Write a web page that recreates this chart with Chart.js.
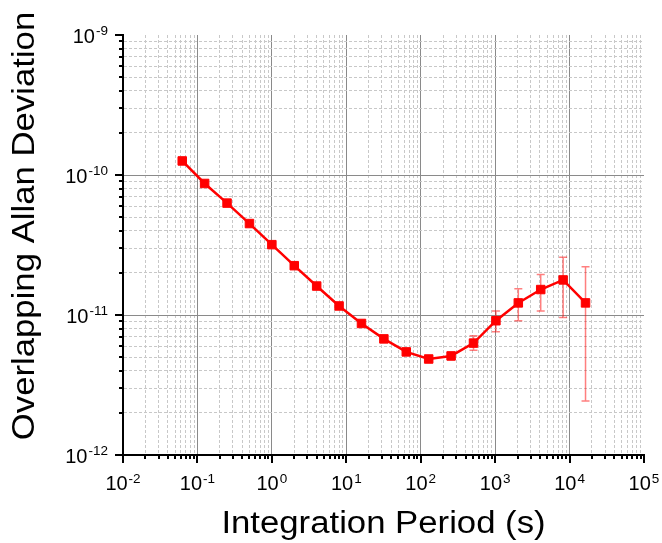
<!DOCTYPE html>
<html>
<head>
<meta charset="utf-8">
<script src="https://cdn.jsdelivr.net/npm/chart.js@4.4.1/dist/chart.umd.min.js"></script>
<style>
html, body { margin: 0; padding: 0; background: #fff; }
</style>
</head>
<body>
<canvas id="chartAdev" width="662" height="543"></canvas>
<script>
(function () {
	// averaging times (s) and overlapping Allan deviation
	var taus = [0.0625, 0.125, 0.25, 0.5, 1, 2, 4, 8, 16, 32, 64, 128, 256, 512, 1024, 2048, 4096, 8192, 16384];
	var adev = [1.26e-10, 8.7e-11, 6.3e-11, 4.5e-11, 3.18e-11, 2.25e-11, 1.61e-11, 1.16e-11, 8.7e-12, 6.75e-12,
		5.45e-12, 4.85e-12, 5.1e-12, 6.3e-12, 9.1e-12, 1.22e-11, 1.52e-11, 1.78e-11, 1.22e-11];
	var errLow = [null, null, null, null, null, null, null, null, null, null,
		null, 4.7e-12, 4.8e-12, 5.6e-12, 7.6e-12, 9.1e-12, 1.07e-11, 9.6e-12, 2.43e-12];
	var errHigh = [null, null, null, null, null, null, null, null, null, null,
		null, 5.0e-12, 5.4e-12, 7.1e-12, 1.07e-11, 1.54e-11, 1.95e-11, 2.58e-11, 2.21e-11];

	// decade exponents used for ticks and tick labels
	var xExps = [-2, -1, 0, 1, 2, 3, 4, 5];
	var yExps = [-12, -11, -10, -9];

	var FONT = "'Liberation Sans', Arial, sans-serif";

	function logTicks(exps) {
		var ticks = [];
		exps.forEach(function (e, i) {
			ticks.push({ value: Math.pow(10, e), major: true, exp: e });
			if (i < exps.length - 1) {
				for (var k = 2; k <= 9; k++) {
					ticks.push({ value: k * Math.pow(10, e), major: false });
				}
			}
		});
		return ticks;
	}

	function gridColor(exps) {
		return function (ctx) {
			var t = ctx.tick;
			if (!t) return 'rgba(0,0,0,0)';
			if (t.major) {
				if (t.exp === exps[0] || t.exp === exps[exps.length - 1]) return 'rgba(0,0,0,0)';
				return '#8a8a8a';
			}
			return '#c8c8c8';
		};
	}

	function gridDash(ctx) {
		return ctx.tick && !ctx.tick.major ? [3, 2] : [];
	}

	var points = taus.map(function (t, i) { return { x: t, y: adev[i] }; });

	var errorBars = {
		id: 'errorBars',
		beforeDatasetsDraw: function (chart) {
			var c = chart.ctx, xs = chart.scales.x, ys = chart.scales.y, a = chart.chartArea;
			c.save();
			c.beginPath();
			c.rect(a.left, a.top, a.right - a.left, a.bottom - a.top);
			c.clip();
			c.strokeStyle = 'rgba(255, 0, 0, 0.5)';
			c.lineWidth = 1.5;
			taus.forEach(function (t, i) {
				if (errLow[i] == null) return;
				var px = xs.getPixelForValue(t);
				var top = ys.getPixelForValue(errHigh[i]);
				var bot = ys.getPixelForValue(errLow[i]);
				c.beginPath();
				c.moveTo(px, top); c.lineTo(px, bot);
				c.moveTo(px - 4, top); c.lineTo(px + 4, top);
				c.moveTo(px - 4, bot); c.lineTo(px + 4, bot);
				c.stroke();
			});
			c.restore();
		}
	};

	var axisDecor = {
		id: 'axisDecor',
		afterDraw: function (chart) {
			var c = chart.ctx, xs = chart.scales.x, ys = chart.scales.y, a = chart.chartArea;
			c.save();
			c.strokeStyle = '#000';
			c.lineWidth = 2;
			c.beginPath();
			xs.ticks.forEach(function (t) {
				var px = Math.round(xs.getPixelForValue(t.value));
				c.moveTo(px, a.bottom); c.lineTo(px, a.bottom + (t.major ? 8 : 4));
			});
			ys.ticks.forEach(function (t) {
				var py = Math.round(ys.getPixelForValue(t.value));
				c.moveTo(a.left, py); c.lineTo(a.left - (t.major ? 8 : 4), py);
			});
			c.stroke();

			c.fillStyle = '#000';
			c.textAlign = 'left';
			c.textBaseline = 'alphabetic';
			var baseFont = '20px ' + FONT, supFont = '13.5px ' + FONT;

			xExps.forEach(function (e) {
				var px = xs.getPixelForValue(Math.pow(10, e));
				var sup = String(e);
				c.font = baseFont; var bw = c.measureText('10').width;
				c.font = supFont; var sw = c.measureText(sup).width;
				var x0 = px - (bw + 1 + sw) / 2;
				c.font = baseFont; c.fillText('10', x0, a.bottom + 35);
				c.font = supFont; c.fillText(sup, x0 + bw + 1, a.bottom + 28);
			});

			yExps.forEach(function (e) {
				var py = ys.getPixelForValue(Math.pow(10, e));
				var sup = String(e);
				c.font = baseFont; var bw = c.measureText('10').width;
				c.font = supFont; var sw = c.measureText(sup).width;
				var xr = a.left - 15;
				c.font = baseFont; c.fillText('10', xr - sw - 1 - bw, py + 8);
				c.font = supFont; c.fillText(sup, xr - sw, py - 0.5);
			});

			// axis titles
			c.font = '31px ' + FONT;
			c.textAlign = 'center';
			c.save();
			c.translate((a.left + a.right) / 2, 533);
			c.scale(1.12, 1);
			c.fillText('Integration Period (s)', 0, 0);
			c.restore();

			c.save();
			c.translate(34, 226);
			c.rotate(-Math.PI / 2);
			c.scale(1.12, 1);
			c.fillText('Overlapping Allan Deviation', 0, 0);
			c.restore();
			c.restore();
		}
	};

	new Chart(document.getElementById('chartAdev'), {
		type: 'scatter',
		data: {
			datasets: [{
				data: points,
				showLine: true,
				borderColor: '#ff0000',
				borderWidth: 2.5,
				tension: 0,
				pointStyle: 'rect',
				pointRadius: 6,
				pointBackgroundColor: '#ff0000',
				pointBorderColor: '#ff0000',
				pointBorderWidth: 1
			}]
		},
		options: {
			responsive: false,
			animation: false,
			layout: { padding: { left: 123, top: 35, right: 18, bottom: 88 } },
			plugins: { legend: { display: false }, tooltip: { enabled: false } },
			scales: {
				x: {
					type: 'logarithmic',
					min: Math.pow(10, xExps[0]),
					max: Math.pow(10, xExps[xExps.length - 1]),
					afterBuildTicks: function (scale) { scale.ticks = logTicks(xExps); },
					ticks: { display: false },
					grid: { drawTicks: false, color: gridColor(xExps), lineWidth: 1 },
					border: { display: true, color: '#000', width: 2, dash: gridDash }
				},
				y: {
					type: 'logarithmic',
					min: Math.pow(10, yExps[0]),
					max: Math.pow(10, yExps[yExps.length - 1]),
					afterBuildTicks: function (scale) { scale.ticks = logTicks(yExps); },
					ticks: { display: false },
					grid: { drawTicks: false, color: gridColor(yExps), lineWidth: 1 },
					border: { display: true, color: '#000', width: 2, dash: gridDash }
				}
			}
		},
		plugins: [errorBars, axisDecor]
	});
})();
</script>
</body>
</html>
